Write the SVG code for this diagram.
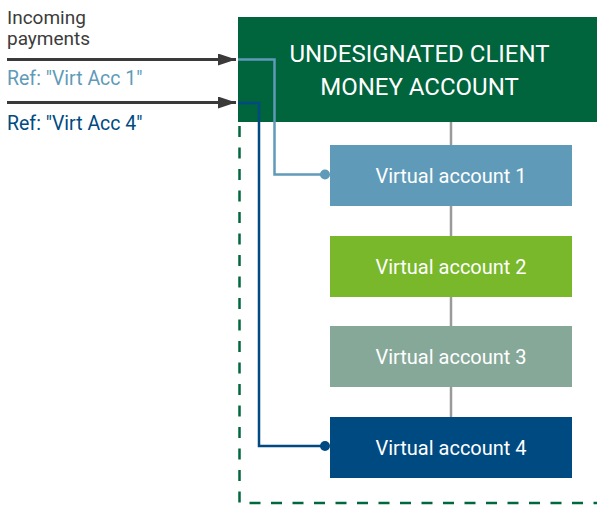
<svg xmlns="http://www.w3.org/2000/svg" width="597" height="505" viewBox="0 0 597 505">
  <defs>
    <marker id="arrowhead" viewBox="0 0 18 12" refX="18" refY="6" markerWidth="18" markerHeight="12" markerUnits="userSpaceOnUse" orient="auto">
      <path d="M0,0 L18,6 L0,12 Z" fill="#3a3a3a"/>
    </marker>
    <style>
      text { font-family: Roboto, "Liberation Sans", sans-serif; }
      .label { font-size: 19px; fill: #3c3c3c; }
      .ref { font-size: 19.5px; }
      .va-text { font-size: 20px; fill: #ffffff; text-anchor: middle; }
      .title { font-size: 24px; fill: #ffffff; text-anchor: middle; }
      .incoming { stroke: #3a3a3a; stroke-width: 3; fill: none; }
      .route { stroke-width: 2.5; fill: none; }
      .spine { stroke: #9a9a9a; stroke-width: 2.5; fill: none; }
      .boundary { stroke: #00683e; stroke-width: 2.5; fill: none; stroke-dasharray: 11 10.5; }
    </style>
  </defs>

  <!-- incoming payments label -->
  <g id="incoming-label">
    <text class="label" x="7" y="24">Incoming</text>
    <text class="label" x="7" y="45">payments</text>
  </g>

  <!-- payment references -->
  <g id="ref-1">
    <text class="ref" x="7" y="85" fill="#5f9bb8">Ref: "Virt Acc 1"</text>
  </g>
  <g id="ref-4">
    <text class="ref" x="7" y="130" fill="#004a82">Ref: "Virt Acc 4"</text>
  </g>

  <!-- dashed boundary around the virtual accounts -->
  <path class="boundary" d="M239.5,126 L239.5,503 L597,503"/>

  <!-- main client money account -->
  <g id="client-account">
    <rect x="238" y="17" width="359" height="105" fill="#00643c"/>
    <text class="title" x="419.5" y="62">UNDESIGNATED CLIENT</text>
    <text class="title" x="419.5" y="95">MONEY ACCOUNT</text>
  </g>

  <!-- connectors -->
  <g id="connectors">
    <line class="spine" x1="451" y1="122" x2="451" y2="417"/>
    <line class="incoming" x1="7" y1="59.5" x2="236" y2="59.5" marker-end="url(#arrowhead)"/>
    <line class="incoming" x1="7" y1="102.5" x2="236" y2="102.5" marker-end="url(#arrowhead)"/>
    <path class="route" stroke="#5f9bb8" d="M238,59.5 L274.5,59.5 L274.5,174.5 L325,174.5"/>
    <circle cx="325" cy="174.5" r="5" fill="#5f9bb8"/>
    <path class="route" stroke="#004a82" d="M238,103 L259,103 L259,446 L325,446"/>
    <circle cx="325" cy="446" r="5" fill="#004a82"/>
  </g>

  <!-- virtual accounts -->
  <g id="virtual-account-1">
    <rect x="330" y="145" width="242" height="61" fill="#5f9bb8"/>
    <text class="va-text" x="451" y="183">Virtual account 1</text>
  </g>
  <g id="virtual-account-2">
    <rect x="330" y="236" width="242" height="61" fill="#78b82a"/>
    <text class="va-text" x="451" y="274">Virtual account 2</text>
  </g>
  <g id="virtual-account-3">
    <rect x="330" y="326" width="242" height="61" fill="#86a898"/>
    <text class="va-text" x="451" y="364">Virtual account 3</text>
  </g>
  <g id="virtual-account-4">
    <rect x="330" y="417" width="242" height="61" fill="#004a82"/>
    <text class="va-text" x="451" y="455">Virtual account 4</text>
  </g>
</svg>
